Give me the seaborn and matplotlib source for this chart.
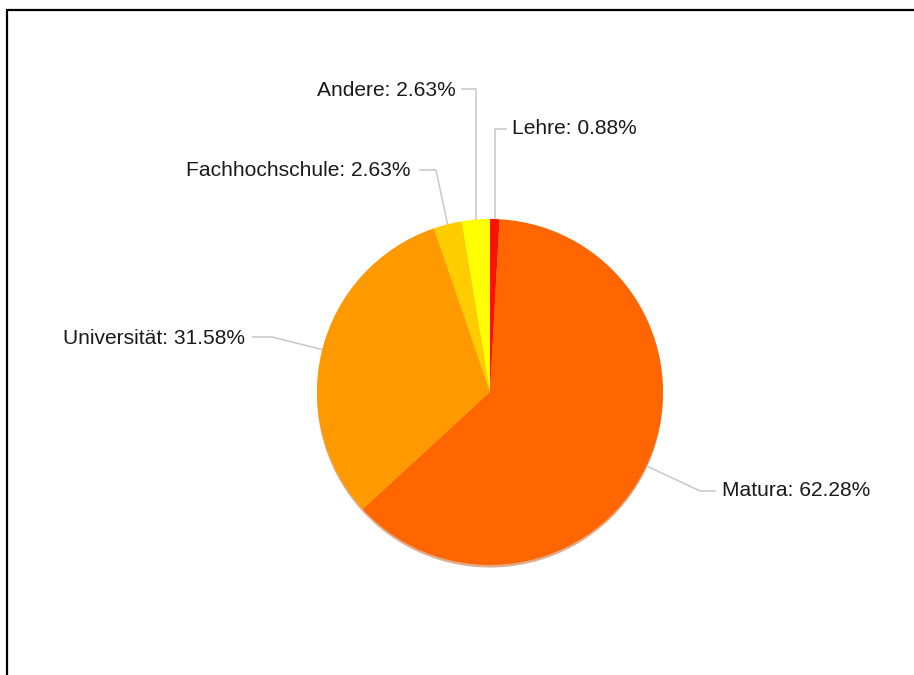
import numpy as np
import matplotlib
matplotlib.use("Agg")
import matplotlib.pyplot as plt
import seaborn as sns
from matplotlib.lines import Line2D

# Abschluss distribution (percent)
categories = ["Lehre", "Matura", "Universität", "Fachhochschule", "Andere"]
values = [0.88, 62.28, 31.58, 2.63, 2.63]
colors = ["#FF1100", "#FF6600", "#FF9900", "#FFCC00", "#FFFF00"]

sns.set_theme(style="white")
plt.rcParams["font.family"] = ["Liberation Sans", "DejaVu Sans"]

W, H = 914, 675
fig = plt.figure(figsize=(W / 100, H / 100), dpi=100)
fig.patch.set_facecolor("white")
ax = fig.add_axes([0, 0, 1, 1])
ax.set_xlim(0, W)
ax.set_ylim(0, H)
ax.set_aspect("equal")
ax.axis("off")

cx, cy, r = 490, H - 392, 173

# faint rim shadow under the pie
shadow = plt.Circle((cx, cy - 2.5), r, color="#B84A00", alpha=0.45, zorder=1, lw=0)
ax.add_patch(shadow)

wedges, _ = ax.pie(values, colors=colors, startangle=90, counterclock=False,
                   center=(cx, cy), radius=r, frame=True,
                   wedgeprops=dict(linewidth=0, zorder=2))
ax.set_xlim(0, W)
ax.set_ylim(0, H)
ax.axis("off")

# label layout: text anchor, alignment, elbow point of the leader (pixel coords from top)
layout = {
    "Lehre":          dict(text=(512, 129), ha="left",  elbow=(None, 129), line_end=507),
    "Matura":         dict(text=(722, 491), ha="left",  elbow=(700, 491), line_end=716),
    "Universität":    dict(text=(245, 338), ha="right", elbow=(272, 337), line_end=252),
    "Fachhochschule": dict(text=(411, 171), ha="right", elbow=(436, 170), line_end=419),
    "Andere":         dict(text=(456, 90),  ha="right", elbow=(None, 89),  line_end=461),
}

line_color = "#C8C8C8"
for w, name, v in zip(wedges, categories, values):
    mid = np.deg2rad((w.theta1 + w.theta2) / 2)
    ex, ey = cx + r * np.cos(mid), cy + r * np.sin(mid)
    L = layout[name]
    elx = ex if L["elbow"][0] is None else L["elbow"][0]
    ely = H - L["elbow"][1]
    ax.plot([ex, elx, L["line_end"]], [ey, ely, ely], color=line_color,
            lw=1.1, zorder=3, solid_capstyle="butt")
    tx, ty = L["text"]
    ax.text(tx, H - ty, f"{name}: {v:.2f}%", ha=L["ha"], va="center",
            fontsize=15.1, color="#1a1a1a", zorder=4)

# frame lines at top and left
fig.add_artist(Line2D([6.5 / W, 1], [1 - 10 / H, 1 - 10 / H], color="black",
                      lw=1.6, transform=fig.transFigure))
fig.add_artist(Line2D([6.5 / W, 6.5 / W], [0, 1 - 10 / H], color="black",
                      lw=1.6, transform=fig.transFigure))

fig.savefig("out.png", dpi=100, facecolor="white")
